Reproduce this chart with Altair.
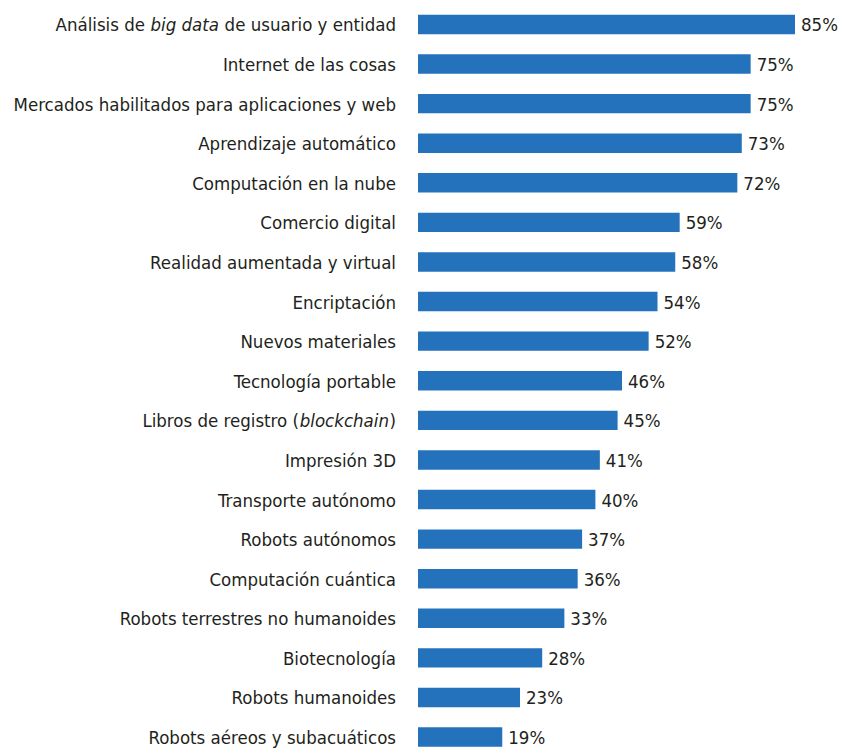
import altair as alt
import pandas as pd

categories = [
    "Análisis de big data de usuario y entidad",
    "Internet de las cosas",
    "Mercados habilitados para aplicaciones y web",
    "Aprendizaje automático",
    "Computación en la nube",
    "Comercio digital",
    "Realidad aumentada y virtual",
    "Encriptación",
    "Nuevos materiales",
    "Tecnología portable",
    "Libros de registro (blockchain)",
    "Impresión 3D",
    "Transporte autónomo",
    "Robots autónomos",
    "Computación cuántica",
    "Robots terrestres no humanoides",
    "Biotecnología",
    "Robots humanoides",
    "Robots aéreos y subacuáticos",
]
values = [85, 75, 75, 73, 72, 59, 58, 54, 52, 46, 45, 41, 40, 37, 36, 33, 28, 23, 19]

# labels with an italic middle part: (before, italic, after)
italic_parts = {
    "Análisis de big data de usuario y entidad": ("Análisis de", "big data", "de usuario y entidad"),
    "Libros de registro (blockchain)": ("Libros de registro (", "blockchain", ")"),
}

BLUE = "#2472BB"
TXT = "#231F20"
FONT = "DejaVu Sans Condensed"
FS = 18.5

df = pd.DataFrame({"cat": categories, "val": values})
df["txt"] = [italic_parts[c][2] if c in italic_parts else c for c in categories]
df["pct"] = [f"{v}%" for v in values]

y = alt.Y("cat:N", sort=categories, axis=None,
          scale=alt.Scale(paddingInner=0.51, paddingOuter=0.17, range=[0, 745.5]))
x = alt.X("val:Q", axis=None, scale=alt.Scale(domain=[0, 85], nice=False, zero=True))

base = alt.Chart(df)

bars = base.mark_bar(color=BLUE).encode(x=x, y=y)

pcts = base.mark_text(align="left", baseline="middle", dx=6, dy=1,
                      fontSize=FS, font=FONT, color=TXT).encode(x=x, y=y, text="pct")

labels = base.mark_text(align="right", baseline="middle", dy=1,
                        fontSize=FS, font=FONT, color=TXT).encode(
    x=alt.value(-22), y=y, text="txt")

k1 = categories[0]
k2 = categories[10]

def seg(key, idx, xpos, italic):
    props = dict(align="right", baseline="middle", dy=1, fontSize=FS, font=FONT, color=TXT)
    if italic:
        props["fontStyle"] = "italic"
    return base.transform_filter(alt.datum.cat == key).mark_text(**props).encode(
        x=alt.value(xpos), y=y, text=alt.value(italic_parts[key][idx]))

layers = [
    bars, pcts, labels,
    seg(k1, 1, -199, True), seg(k1, 0, -273, False),
    seg(k2, 1, -29, True), seg(k2, 0, -119, False),
]

chart = alt.layer(*layers).properties(
    width=377, height=740,
    autosize=alt.AutoSizeParams(type="none"),
    padding={"left": 410, "top": 0, "right": 44, "bottom": 0},
).configure_view(stroke=None)

chart.save("out.html", embed_options={"renderer": "svg", "actions": False})
